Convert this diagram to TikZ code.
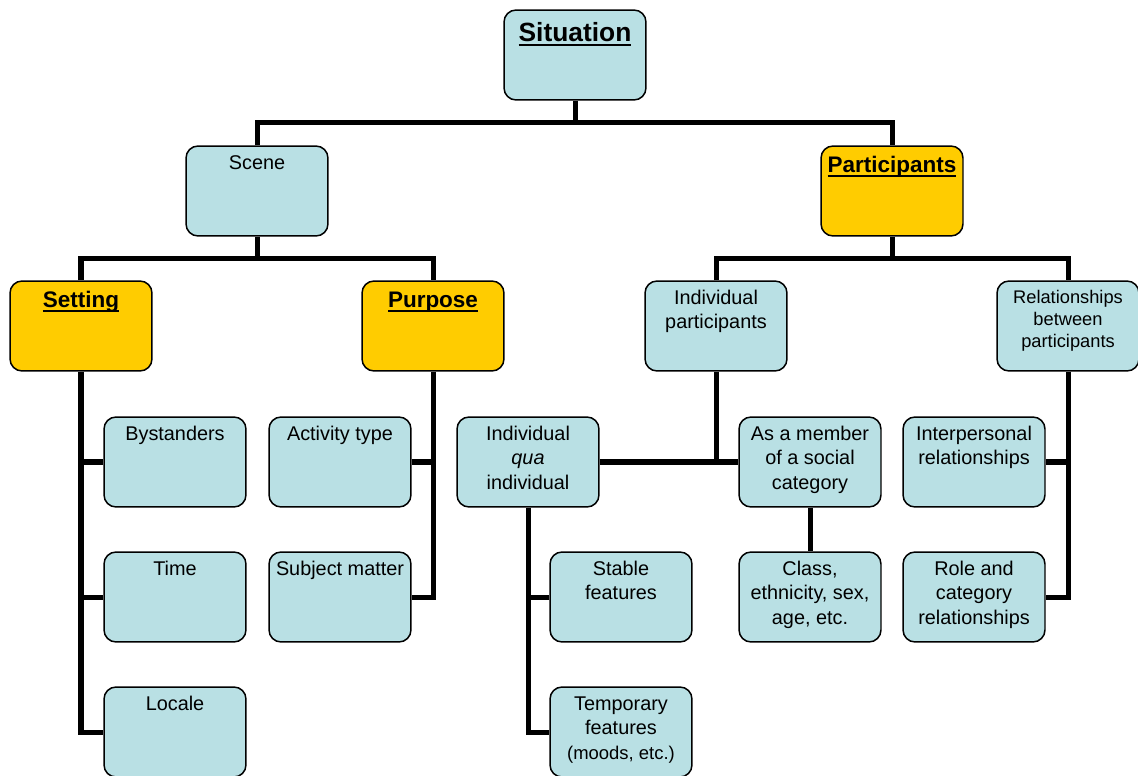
\documentclass[tikz,border=0pt]{standalone}
\usepackage{fontspec}
\setmainfont{Liberation Sans}
\definecolor{boxblue}{RGB}{185,224,228}
\definecolor{headgold}{RGB}{255,204,0}
\newcommand{\headul}[1]{\setbox0\hbox{#1}\rlap{\rule[-2.6pt]{\wd0}{1.2pt}}\box0}
\begin{document}
\begin{tikzpicture}[x=0.02cm,y=-0.02cm,
  box/.style={draw,line width=0.85pt,rounded corners=0.24cm,fill=boxblue,
    inner xsep=3pt,inner ysep=4pt,font=\fontsize{11.3}{13.7}\selectfont,
    execute at begin node={\begin{minipage}[t][43.2pt][t]{74.8pt}\centering\strut},
    execute at end node={\end{minipage}}},
  head/.style={box,fill=headgold,font=\bfseries\fontsize{12.8}{15.5}\selectfont},
  link/.style={line width=2.85pt}]
\useasboundingbox (0,0) rectangle (1138,776);
\node[box,font=\bfseries\fontsize{15}{20}\selectfont] (sit) at (575,55) {\headul{Situation}};
\node[box]  (scene)   at (257,191) {Scene};
\node[head] (part)    at (892,191) {\headul{Participants}};
\node[head] (setting) at (81,326)  {\headul{Setting}};
\node[head] (purpose) at (433,326) {\headul{Purpose}};
\node[box]  (indiv)   at (716,326) {Individual\\participants};
\node[box,font=\fontsize{10.4}{12.5}\selectfont] (rel) at (1068,326) {Relationships\\between\\participants};
\node[box] (bystand)  at (175,462) {Bystanders};
\node[box] (activity) at (340,462) {Activity type};
\node[box] (qua)      at (528,462) {Individual\\\textit{qua}\\individual};
\node[box] (member)   at (810,462) {As a member\\of a social\\category};
\node[box] (inter)    at (974,462) {Interpersonal\\relationships};
\node[box] (time)     at (175,597) {Time};
\node[box] (subject)  at (340,597) {Subject matter};
\node[box] (stable)   at (621,597) {Stable\\features};
\node[box] (class)    at (810,597) {Class,\\ethnicity, sex,\\age, etc.};
\node[box] (role)     at (974,597) {Role and\\category\\relationships};
\node[box] (locale)   at (175,732) {Locale};
\node[box] (temp)     at (621,732) {Temporary\\features\\{\fontsize{10.5}{12}\selectfont(moods, etc.)}};
\draw[link] (scene.north) -- ++(0,-23) coordinate (j1) -| (part.north);
\draw[link] (sit.south) -- (sit.south |- j1);
\draw[link] (setting.north) -- ++(0,-22) coordinate (j2) -| (purpose.north);
\draw[link] (scene.south) -- (scene.south |- j2);
\draw[link] (indiv.north) -- ++(0,-22) coordinate (j3) -| (rel.north);
\draw[link] (part.south) -- (part.south |- j3);
\draw[link] (setting.south) |- (locale.west);
\draw[link] (bystand.west) -- (bystand.west -| setting.south);
\draw[link] (time.west) -- (time.west -| setting.south);
\draw[link] (purpose.south) |- (subject.east);
\draw[link] (activity.east) -- (activity.east -| purpose.south);
\draw[link] (indiv.south) -- (indiv.south |- qua.east);
\draw[link] (qua.east) -- (member.west);
\draw[link] (qua.south) |- (temp.west);
\draw[link] (stable.west) -- (stable.west -| qua.south);
\draw[link] (member.south) -- (class.north);
\draw[link] (rel.south) |- (role.east);
\draw[link] (inter.east) -- (inter.east -| rel.south);
\end{tikzpicture}
\end{document}
